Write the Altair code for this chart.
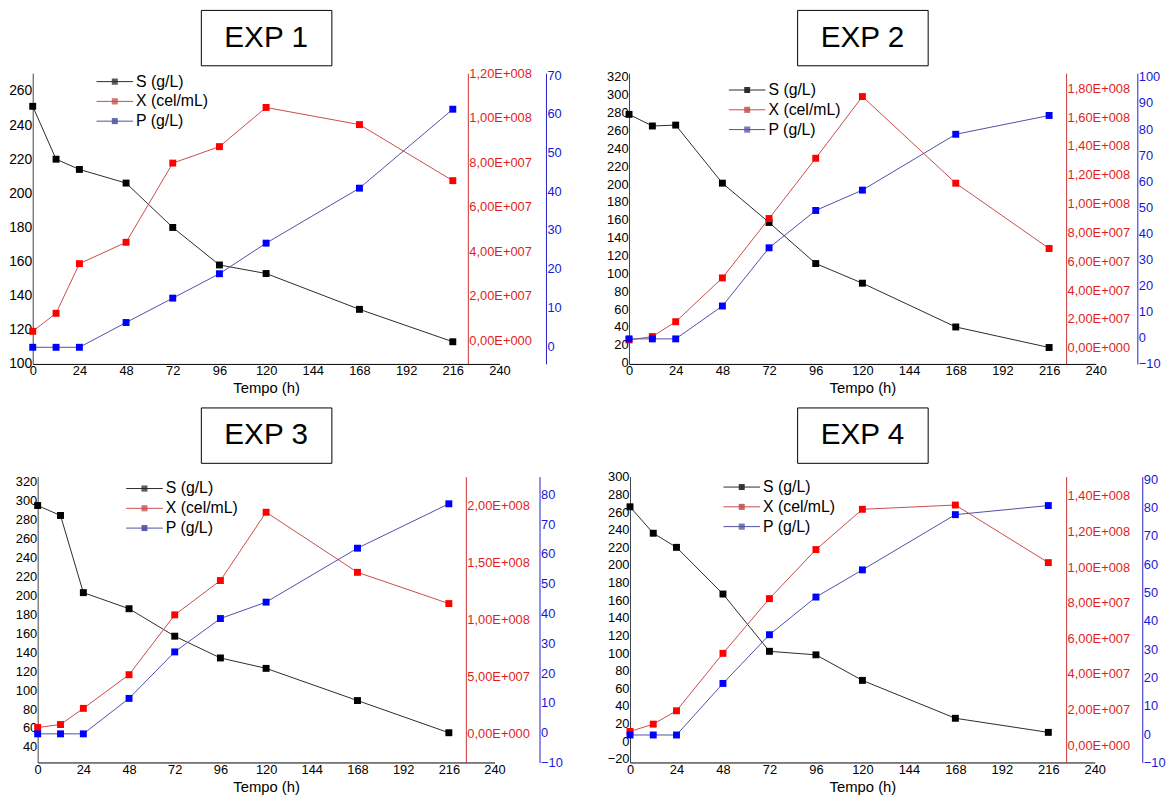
import altair as alt
import pandas as pd

# ---------------- data ----------------
TIME = [0, 12, 24, 48, 72, 96, 120, 168, 216]
SERIES = ["S (g/L)", "X (cel/mL)", "P (g/L)"]
EXP_TITLES = ["EXP 1", "EXP 2", "EXP 3", "EXP 4"]
X_TICKS = [0, 24, 48, 72, 96, 120, 144, 168, 192, 216, 240]
X_TITLE = "Tempo (h)"

S_EXP1 = [251, 220, 214, 206, 180, 158, 153, 132, 113]
X_EXP1 = [4.0e6, 1.21e7, 3.44e7, 4.40e7, 7.96e7, 8.70e7, 1.046e8, 9.69e7, 7.17e7]
P_EXP1 = [-0.3, -0.3, -0.3, 6.1, 12.4, 18.7, 26.6, 40.8, 61.2]

S_EXP2 = [278, 265, 266, 201, 157, 111, 89, 40, 17]
X_EXP2 = [5.5e6, 7.8e6, 1.81e7, 4.85e7, 8.97e7, 1.315e8, 1.743e8, 1.142e8, 6.89e7]
P_EXP2 = [-0.4, -0.4, -0.4, 12.2, 34.5, 48.8, 56.6, 78.0, 85.2]

S_EXP3 = [295, 284.5, 203, 186, 157, 134, 123, 89, 55]
X_EXP3 = [4.9e6, 7.5e6, 2.17e7, 5.12e7, 1.037e8, 1.338e8, 1.937e8, 1.41e8, 1.136e8]
P_EXP3 = [-0.4, -0.4, -0.4, 11.5, 27.1, 38.3, 43.8, 61.9, 76.8]

S_EXP4 = [266, 236, 220, 167, 102, 98, 69, 26, 10]
X_EXP4 = [7.8e6, 1.19e7, 1.94e7, 5.16e7, 8.23e7, 1.098e8, 1.324e8, 1.348e8, 1.025e8]
P_EXP4 = [-0.3, -0.3, -0.3, 17.9, 35.1, 48.4, 58.0, 77.5, 80.7]

S_TICKS = [
    [100, 120, 140, 160, 180, 200, 220, 240, 260],
    [0, 20, 40, 60, 80, 100, 120, 140, 160, 180, 200, 220, 240, 260, 280, 300, 320],
    [40, 60, 80, 100, 120, 140, 160, 180, 200, 220, 240, 260, 280, 300, 320],
    [-20, 0, 20, 40, 60, 80, 100, 120, 140, 160, 180, 200, 220, 240, 260, 280, 300],
]
X_TICKS_RED = [
    [0, 20000000, 40000000, 60000000, 80000000, 100000000, 120000000],
    [0, 20000000, 40000000, 60000000, 80000000, 100000000, 120000000, 140000000, 160000000, 180000000],
    [0, 50000000, 100000000, 150000000, 200000000],
    [0, 20000000, 40000000, 60000000, 80000000, 100000000, 120000000, 140000000],
]
P_TICKS = [
    [0, 10, 20, 30, 40, 50, 60, 70],
    [-10, 0, 10, 20, 30, 40, 50, 60, 70, 80, 90, 100],
    [-10, 0, 10, 20, 30, 40, 50, 60, 70, 80],
    [-10, 0, 10, 20, 30, 40, 50, 60, 70, 80, 90],
]

S_DATA = [S_EXP1, S_EXP2, S_EXP3, S_EXP4]
X_DATA = [X_EXP1, X_EXP2, X_EXP3, X_EXP4]
P_DATA = [P_EXP1, P_EXP2, P_EXP3, P_EXP4]

# ---------------- style ----------------
FONT = "Liberation Sans"
LINE_COLORS = ["#2a2a2a", "#c84c4c", "#5050a8"]
MARK_COLORS = ["#000000", "#ff0000", "#0000ff"]
RED_AXIS = "#c83232"
RED_LABEL = "#e01e1e"
BLUE_AXIS = "#2020c8"
BLUE_LABEL = "#1818d8"

PANELS = [
    dict(w=472, h=294, sdom=[100, 270.4], xdom=[-1.067e7, 1.2e8], pdom=[-4.6, 70.5],
         red_off=-32, blue_off=47, sfs=14, leg=(75, 0.5)),
    dict(w=472, h=294, sdom=[-1.4, 324.1], xdom=[-1.118e7, 1.905e8], pdom=[-10, 101.4],
         red_off=-30, blue_off=42, sfs=13, leg=(111.5, 9)),
    dict(w=462, h=289, sdom=[23.6, 325.5], xdom=[-2.576e7, 2.249e8], pdom=[-10, 85.9],
         red_off=-29, blue_off=45.5, sfs=13, leg=(100, 4)),
    dict(w=470, h=289, sdom=[-24.15, 300.2], xdom=[-9.6e6, 1.507e8], pdom=[-10, 90.9],
         red_off=-29, blue_off=48, sfs=13, leg=(105, 2.5)),
]

# legend symbol: a line with a small square in the middle
SYMBOL = "M-3.7,0H3.7" + "".join(f"M-0.6,{y}H0.6" for y in [-0.5, -0.3, -0.1, 0.1, 0.3, 0.5])


def sci_label(v):
    m, e = f"{v:.2E}".split("E")
    return m.replace(".", ",") + "E" + e[0] + e[1:].zfill(3)


def label_expr(values):
    expr = "''"
    for v in reversed(values):
        expr = f"datum.value == {v} ? '{sci_label(v)}' : " + expr
    return expr


def panel(i):
    cfg = PANELS[i]
    x_axis = alt.Axis(values=X_TICKS, title=X_TITLE, orient="bottom", ticks=False,
                      labelPadding=1, labelFontSize=13, labelFlush=False, labelOverlap=False,
                      domainColor="#000000", domainWidth=1, titleFontSize=15,
                      titleFontWeight="normal", titlePadding=3, titleColor="#000000",
                      labelColor="#000000")
    xenc = alt.X("t:Q", scale=alt.Scale(domain=[0, 240], nice=False, zero=False), axis=x_axis)
    legend = alt.Legend(orient="none", legendX=cfg["leg"][0], legendY=cfg["leg"][1], title=None,
                        symbolType=SYMBOL, symbolSize=100, symbolStrokeWidth=1,
                        labelFontSize=16, labelOffset=13.5, rowPadding=4, padding=0,
                        symbolOffset=0, labelColor="#000000")
    stroke = alt.Stroke("series:N", scale=alt.Scale(domain=SERIES, range=LINE_COLORS),
                        legend=legend)
    axes = [
        alt.Axis(values=S_TICKS[i], title=None, orient="left", ticks=False, labelPadding=1,
                 labelFontSize=cfg["sfs"], labelOverlap=False, labelFlush=False,
                 domainColor="#444444", labelColor="#000000"),
        alt.Axis(values=X_TICKS_RED[i], title=None, orient="right", offset=cfg["red_off"],
                 ticks=False, labelPadding=1, labelFontSize=13, labelOverlap=False,
                 labelFlush=False, domainColor=RED_AXIS, labelColor=RED_LABEL,
                 labelExpr=label_expr(X_TICKS_RED[i])),
        alt.Axis(values=P_TICKS[i], title=None, orient="right", offset=cfg["blue_off"],
                 ticks=False, labelPadding=1, labelFontSize=13, labelOverlap=False,
                 labelFlush=False, domainColor=BLUE_AXIS, labelColor=BLUE_LABEL),
    ]
    doms = [cfg["sdom"], cfg["xdom"], cfg["pdom"]]
    vals = [S_DATA[i], X_DATA[i], P_DATA[i]]
    layers = []
    for k in range(3):
        df = pd.DataFrame({"t": TIME, "v": vals[k], "series": SERIES[k]})
        yenc = alt.Y("v:Q", scale=alt.Scale(domain=doms[k], nice=False, zero=False),
                     axis=axes[k])
        line = alt.Chart(df).mark_line(strokeWidth=1).encode(x=xenc, y=yenc, stroke=stroke)
        pts = alt.Chart(df).mark_point(shape="square", filled=True, size=49,
                                       color=MARK_COLORS[k], opacity=1).encode(x=xenc, y=yenc)
        layers.append(alt.layer(line, pts))
    return alt.layer(*layers).resolve_scale(y="independent").properties(
        width=cfg["w"], height=cfg["h"])


def spacer(h):
    return alt.Chart(pd.DataFrame({"a": [0]})).mark_point(opacity=0, size=1).properties(
        width=1, height=h)


def title_box(txt):
    return alt.Chart(pd.DataFrame({"label": [txt]})).mark_text(
        font=FONT, fontSize=30, color="#000000").encode(text="label:N").properties(
        width=132, height=56, view=alt.ViewBackground(stroke="#000000", strokeWidth=1))


def column(top, bottom):
    col = alt.vconcat(
        title_box(EXP_TITLES[top]), spacer(1.5), panel(top), spacer(38),
        title_box(EXP_TITLES[bottom]), spacer(8), panel(bottom),
        spacing=3, bounds="flush", center=True,
    )
    return col.resolve_scale(stroke="independent")


chart = alt.hconcat(column(0, 2), column(1, 3), spacing=44).resolve_scale(
    stroke="independent").properties(
    padding={"left": 0, "top": -3.5, "right": 0, "bottom": 0}
).configure_view(stroke=None).configure_axis(
    grid=False, labelFont=FONT, titleFont=FONT
).configure_legend(labelFont=FONT).configure_text(font=FONT)

chart.save("out.html", embed_options={"renderer": "svg", "actions": False})
